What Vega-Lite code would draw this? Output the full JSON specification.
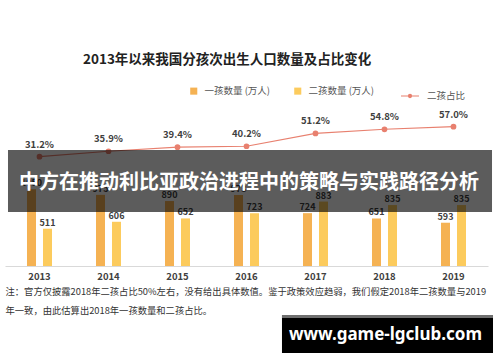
{
  "$schema": "https://vega.github.io/schema/vega-lite/v6.json",
  "width": 483,
  "height": 151,
  "autosize": {"type": "none"},
  "padding": {"left": 5, "top": 115, "right": 12, "bottom": 96},
  "background": "white",
  "config": {"font": "Noto Sans CJK SC", "view": {"stroke": null}},
  "title": {"text": "2013年以来我国分孩次出生人口数量及占比变化", "anchor": "start", "dx": 78, "offset": 20, "fontSize": 13.5, "fontWeight": "bold", "color": "#222222"},
  "datasets": {
    "births": [
      {"year": "2013", "type": "一孩数量 (万人)", "value": 1050},
      {"year": "2013", "type": "二孩数量 (万人)", "value": 511},
      {"year": "2014", "type": "一孩数量 (万人)", "value": 975},
      {"year": "2014", "type": "二孩数量 (万人)", "value": 606},
      {"year": "2015", "type": "一孩数量 (万人)", "value": 890},
      {"year": "2015", "type": "二孩数量 (万人)", "value": 652},
      {"year": "2016", "type": "一孩数量 (万人)", "value": 973},
      {"year": "2016", "type": "二孩数量 (万人)", "value": 723},
      {"year": "2017", "type": "一孩数量 (万人)", "value": 724},
      {"year": "2017", "type": "二孩数量 (万人)", "value": 883},
      {"year": "2018", "type": "一孩数量 (万人)", "value": 651},
      {"year": "2018", "type": "二孩数量 (万人)", "value": 835},
      {"year": "2019", "type": "一孩数量 (万人)", "value": 593},
      {"year": "2019", "type": "二孩数量 (万人)", "value": 835}
    ],
    "ratio": [
      {"year": "2013", "pct": 0.312},
      {"year": "2014", "pct": 0.359},
      {"year": "2015", "pct": 0.394},
      {"year": "2016", "pct": 0.402},
      {"year": "2017", "pct": 0.512},
      {"year": "2018", "pct": 0.548},
      {"year": "2019", "pct": 0.570}
    ]
  },
  "layer": [
    {
      "data": {"name": "births"},
      "layer": [
        {
          "mark": {"type": "bar"},
          "encoding": {
            "x": {
              "field": "year", "type": "nominal",
              "scale": {"paddingInner": 0.536, "paddingOuter": 0.268},
              "axis": {
                "domainColor": "#d9d9d9", "ticks": false, "labelAngle": 0,
                "labelFontSize": 9.5, "labelFontWeight": "bold", "labelColor": "#404040", "labelPadding": 5,
                "title": ["注：官方仅披露2018年二孩占比50%左右，没有给出具体数值。鉴于政策效应趋弱，我们假定2018年二孩数量与2019", "年一致，由此估算出2018年一孩数量和二孩占比。"],
                "titleAnchor": "start", "titleAlign": "left", "titleFontSize": 9.3, "titleFontWeight": "normal",
                "titleColor": "#333333", "titlePadding": 7, "titleLineHeight": 19
              }
            },
            "xOffset": {"field": "type", "sort": ["一孩数量 (万人)", "二孩数量 (万人)"], "scale": {"paddingInner": 0.4375, "paddingOuter": 0.21875}},
            "y": {"field": "value", "type": "quantitative", "scale": {"domain": [0, 2069], "nice": false}, "axis": null},
            "color": {
              "field": "type", "type": "nominal",
              "scale": {"domain": ["一孩数量 (万人)", "二孩数量 (万人)"], "range": ["#F5B253", "#FCCB5D"]},
              "legend": {
                "orient": "none", "legendX": 184, "legendY": -29, "direction": "horizontal", "title": null,
                "symbolType": "square", "symbolSize": 50, "labelFontSize": 9.5, "labelColor": "#555555",
                "columnPadding": 22, "labelOffset": 6
              }
            }
          }
        },
        {
          "mark": {"type": "text", "dy": -6, "fontSize": 9, "fontWeight": "bold", "color": "#404040"},
          "encoding": {
            "x": {"field": "year", "type": "nominal"},
            "xOffset": {"field": "type", "sort": ["一孩数量 (万人)", "二孩数量 (万人)"]},
            "y": {"field": "value", "type": "quantitative"},
            "text": {"field": "value", "type": "quantitative"}
          }
        }
      ]
    },
    {
      "layer": [
        {
          "data": {"name": "ratio"},
          "mark": {"type": "line", "strokeWidth": 1.2, "point": {"filled": true, "size": 14, "color": "#E8806F"}},
          "encoding": {
            "x": {"field": "year", "type": "nominal"},
            "y": {"field": "pct", "type": "quantitative", "scale": {"domain": [-0.6277, 0.6707], "nice": false, "zero": false}, "axis": null},
            "stroke": {
              "datum": "二孩占比", "type": "nominal",
              "scale": {"range": ["#E8806F"]},
              "legend": {
                "orient": "none", "legendX": 395, "legendY": -29, "title": null,
                "symbolType": "M-1,0H1M-0.17,0A0.17,0.17,0,1,1,0.17,0A0.17,0.17,0,1,1,-0.17,0",
                "symbolSize": 324, "symbolStrokeWidth": 1.2, "symbolFillColor": "#E8806F", "symbolStrokeColor": "#E8806F",
                "labelFontSize": 9.5, "labelColor": "#555555", "labelOffset": 7
              }
            }
          }
        },
        {
          "data": {"name": "ratio"},
          "mark": {"type": "text", "dy": -12, "fontSize": 9.5, "fontWeight": "bold", "color": "#404040"},
          "encoding": {
            "x": {"field": "year", "type": "nominal"},
            "y": {"field": "pct", "type": "quantitative"},
            "text": {"field": "pct", "type": "quantitative", "format": ".1%"}
          }
        },
        {
          "data": {"values": [{}]},
          "mark": {"type": "rect", "color": "#000000", "opacity": 0.64},
          "encoding": {
            "x": {"datum": "2013", "type": "nominal", "bandPosition": -0.484},
            "x2": {"datum": "2019", "bandPosition": 1.703},
            "y": {"datum": 0.3697, "type": "quantitative"},
            "y2": {"datum": -0.1634}
          }
        },
        {
          "data": {"values": [{"label": "中方在推动利比亚政治进程中的策略与实践路径分析"}]},
          "mark": {"type": "text", "color": "#ffffff", "fontSize": 20, "fontWeight": "bold", "baseline": "middle", "align": "center"},
          "encoding": {
            "x": {"datum": "2016", "type": "nominal", "bandPosition": 0.578},
            "y": {"datum": 0.086, "type": "quantitative"},
            "text": {"field": "label"}
          }
        },
        {
          "data": {"values": [{}]},
          "mark": {"type": "rect", "color": "#000000"},
          "encoding": {
            "x": {"datum": "2017", "type": "nominal", "bandPosition": -0.547},
            "x2": {"datum": "2019", "bandPosition": 1.734},
            "y": {"datum": -1.049, "type": "quantitative"},
            "y2": {"datum": -1.3758}
          }
        },
        {
          "data": {"values": [{}]},
          "mark": {"type": "rect", "color": "#6f6f6f"},
          "encoding": {
            "x": {"datum": "2017", "type": "nominal", "bandPosition": -0.547},
            "x2": {"datum": "2019", "bandPosition": 1.734},
            "y": {"datum": -1.049, "type": "quantitative"},
            "y2": {"datum": -1.0748}
          }
        },
        {
          "data": {"values": [{"label": "www.game-lgclub.com"}]},
          "mark": {"type": "text", "color": "#ffffff", "font": "Noto Sans", "fontSize": 17, "fontWeight": "bold", "baseline": "middle", "align": "center"},
          "encoding": {
            "x": {"datum": "2018", "type": "nominal", "bandPosition": 0.53},
            "y": {"datum": -1.221, "type": "quantitative"},
            "text": {"field": "label"}
          }
        }
      ]
    }
  ],
  "resolve": {"scale": {"y": "independent"}}
}
